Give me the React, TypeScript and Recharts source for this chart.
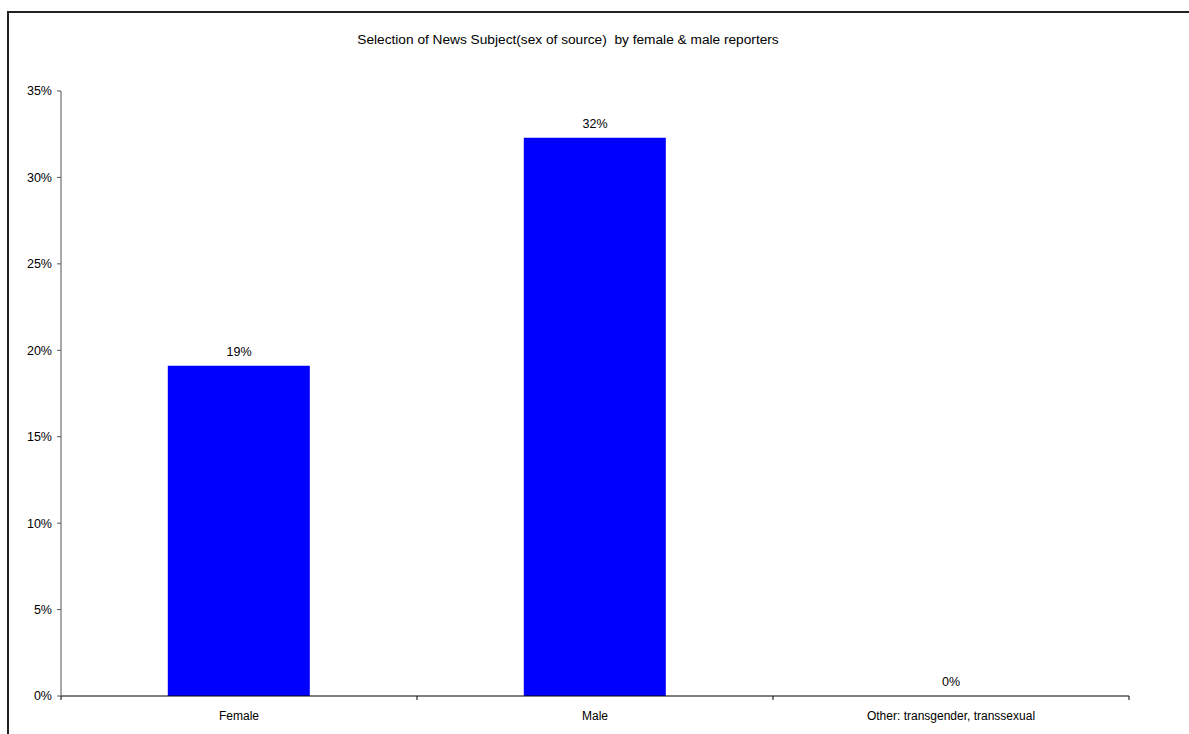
import { ComposedChart, Bar, Line, XAxis, YAxis, LabelList } from "recharts";

const categories = ["Female", "Male", "Other: transgender, transsexual"];
const shares = [0.191, 0.323, 0];
const yTicks = [0, 0.05, 0.1, 0.15, 0.2, 0.25, 0.3, 0.35];

const data = categories.map((name, i) => ({ name, value: shares[i] }));

const W = 1189;
const H = 734;
const FONT = "'Liberation Sans', Arial, sans-serif";
const MARGIN = { top: 91, right: 60, bottom: 8, left: 0 };
const Y_AXIS_W = 61;
const X_AXIS_H = 30;
const plotWidth = W - MARGIN.left - MARGIN.right - Y_AXIS_W;
const halfBand = plotWidth / categories.length / 2;

const pct = (v: number) => `${Math.round(v * 100)}%`;

// Excel-style: tick marks on category boundaries, label in the middle
function CategoryTick(props: any) {
  const { x, y, payload, index } = props;
  const isLast = index === categories.length - 1;
  return (
    <g>
      <line x1={x - halfBand} x2={x - halfBand} y1={y} y2={y + 4} stroke="#000" />
      {isLast && <line x1={x + halfBand} x2={x + halfBand} y1={y} y2={y + 4} stroke="#000" />}
      <text
        x={x}
        y={y + 24}
        textAnchor="middle"
        fontSize={12}
        fontFamily={FONT}
        fill="#000"
      >
        {payload.value}
      </text>
    </g>
  );
}

export default function App() {
  return (
    <div
      style={{
        position: "absolute",
        left: 0,
        top: 0,
        width: W,
        height: H,
        overflow: "hidden",
        background: "#fff",
        fontFamily: FONT,
      }}
    >
      <div
        style={{
          position: "absolute",
          left: 7,
          top: 11,
          width: W + 40,
          height: H + 40,
          border: "2px solid #222",
          boxSizing: "border-box",
        }}
      />
      <div
        style={{
          position: "absolute",
          left: 0,
          width: 1136,
          top: 32,
          textAlign: "center",
          fontSize: 13.7,
          color: "#000",
          whiteSpace: "pre",
        }}
      >
        {"Selection of News Subject(sex of source)  by female & male reporters"}
      </div>
      <div style={{ position: "absolute", left: 0, top: 0 }}>
        <ComposedChart width={W} height={H} data={data} margin={MARGIN} barCategoryGap="30%">
          <XAxis
            dataKey="name"
            height={X_AXIS_H}
            axisLine={{ stroke: "#000" }}
            tickLine={false}
            tickSize={0}
            tickMargin={0}
            tick={<CategoryTick />}
            interval={0}
          />
          <YAxis
            width={Y_AXIS_W}
            domain={[0, 0.35]}
            ticks={yTicks}
            tickFormatter={pct}
            axisLine={{ stroke: "#555" }}
            tickLine={{ stroke: "#555" }}
            tickSize={4}
            tickMargin={5}
            tick={{ fontSize: 12.5, fontFamily: FONT, fill: "#000" }}
          />
          <Bar dataKey="value" fill="#0000ff" isAnimationActive={false} />
          <Line
            dataKey="value"
            stroke="none"
            dot={false}
            activeDot={false}
            isAnimationActive={false}
          >
            <LabelList
              dataKey="value"
              position="top"
              offset={10}
              formatter={(v: any) => pct(Number(v))}
              style={{ fontSize: 12.5, fontFamily: FONT, fill: "#000" }}
            />
          </Line>
        </ComposedChart>
      </div>
    </div>
  );
}
